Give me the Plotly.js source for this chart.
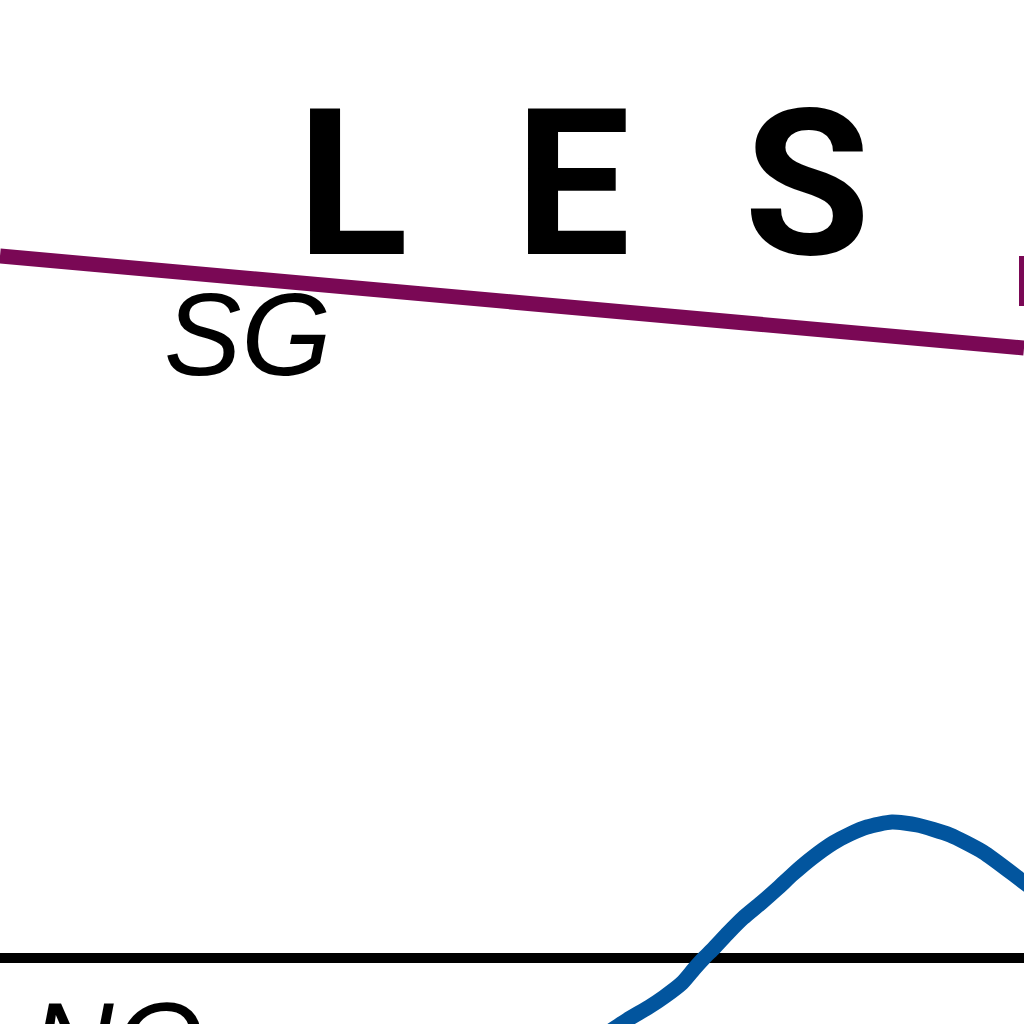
<!DOCTYPE html>
<html>
<head>
<meta charset="utf-8">
<script src="https://cdn.plot.ly/plotly-3.0.1.min.js"></script>
<style>html,body{margin:0;padding:0;background:#fff;}#chart{width:1024px;height:1024px;}</style>
</head>
<body>
<div id="chart"></div>
<script>
// Title letters
var titleLetters = ["L", "E", "S"];
var titleX = [0.3443, 0.5595, 0.7876];

// Series labels
var labelText = ["SG", "NO"];
var labelX = [0.242, 0.114];
var labelY = [0.673, -0.0195];

// Purple series (SG)
var sgX = [0.00, 10.24];
var sgY = [7.02, 6.10];

// Purple legend stub at right edge
var stubX = [10.24, 10.24];
var stubY = [7.02, 6.52];

// Blue series
var blueX = [6.00, 6.27, 6.49, 6.64, 6.82, 6.94, 7.04, 7.14, 7.28, 7.43, 7.61, 7.78, 7.93, 8.12, 8.33, 8.50, 8.67, 8.92, 9.17, 9.50, 9.83, 10.17, 10.30];
var blueY = [-0.80, -0.62, -0.49, -0.39, -0.25, -0.11, 0.00, 0.10, 0.25, 0.40, 0.55, 0.70, 0.84, 1.00, 1.15, 1.24, 1.31, 1.36, 1.33, 1.23, 1.06, 0.81, 0.71];

var purple = "#7a0855";
var blue = "#02559e";

var traces = [
  {x: sgX, y: sgY, mode: "lines", line: {color: purple, width: 15}, hoverinfo: "skip"},
  {x: stubX, y: stubY, mode: "lines", line: {color: purple, width: 10}, hoverinfo: "skip"},
  {x: blueX, y: blueY, mode: "lines", line: {color: blue, width: 15, shape: "spline", smoothing: 0.6}, hoverinfo: "skip"}
];

var annotations = [];
for (var i = 0; i < titleLetters.length; i++) {
  annotations.push({
    text: titleLetters[i], xref: "paper", yref: "paper", x: titleX[i], y: 0.820,
    xanchor: "center", yanchor: "middle", showarrow: false,
    font: {family: "Roboto, Arial, sans-serif", size: 205, color: "#000", weight: 700}
  });
}
for (var j = 0; j < labelText.length; j++) {
  annotations.push({
    text: "<i>" + labelText[j] + "</i>", xref: "paper", yref: "paper", x: labelX[j], y: labelY[j],
    xanchor: "center", yanchor: "middle", showarrow: false,
    font: {family: "Liberation Sans, Arial, sans-serif", size: 116, color: "#000"}
  });
}

var layout = {
  width: 1024, height: 1024,
  margin: {l: 0, r: 0, t: 0, b: 0, pad: 0},
  paper_bgcolor: "#fff", plot_bgcolor: "#fff",
  showlegend: false,
  xaxis: {range: [0, 10.24], showgrid: false, zeroline: false, showticklabels: false, ticks: "", showline: false, fixedrange: true},
  yaxis: {range: [-0.66, 9.58], showgrid: false, zeroline: true, zerolinecolor: "#000", zerolinewidth: 10, showticklabels: false, ticks: "", showline: false, fixedrange: true},
  annotations: annotations
};

Plotly.newPlot("chart", traces, layout, {staticPlot: true, displayModeBar: false});
</script>
</body>
</html>
